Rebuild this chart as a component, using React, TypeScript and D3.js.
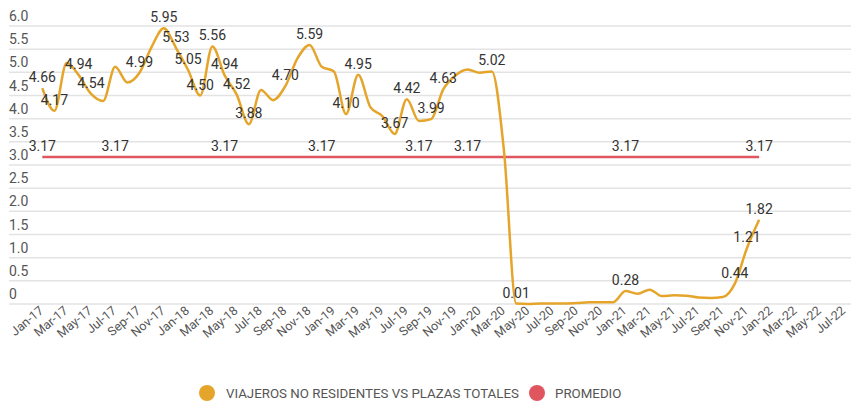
import React, { useEffect, useRef } from 'react';
import * as d3 from 'd3';

// axis categories (monthly), Jan-17 .. Jul-22
const months = [
  'Jan-17', 'Feb-17', 'Mar-17', 'Apr-17', 'May-17', 'Jun-17', 'Jul-17', 'Aug-17', 'Sep-17', 'Oct-17', 'Nov-17', 'Dec-17',
  'Jan-18', 'Feb-18', 'Mar-18', 'Apr-18', 'May-18', 'Jun-18', 'Jul-18', 'Aug-18', 'Sep-18', 'Oct-18', 'Nov-18', 'Dec-18',
  'Jan-19', 'Feb-19', 'Mar-19', 'Apr-19', 'May-19', 'Jun-19', 'Jul-19', 'Aug-19', 'Sep-19', 'Oct-19', 'Nov-19', 'Dec-19',
  'Jan-20', 'Feb-20', 'Mar-20', 'Apr-20', 'May-20', 'Jun-20', 'Jul-20', 'Aug-20', 'Sep-20', 'Oct-20', 'Nov-20', 'Dec-20',
  'Jan-21', 'Feb-21', 'Mar-21', 'Apr-21', 'May-21', 'Jun-21', 'Jul-21', 'Aug-21', 'Sep-21', 'Oct-21', 'Nov-21', 'Dec-21',
  'Jan-22', 'Feb-22', 'Mar-22', 'Apr-22', 'May-22', 'Jun-22', 'Jul-22',
];

const tickLabels = [
  'Jan-17', 'Mar-17', 'May-17', 'Jul-17', 'Sep-17', 'Nov-17',
  'Jan-18', 'Mar-18', 'May-18', 'Jul-18', 'Sep-18', 'Nov-18',
  'Jan-19', 'Mar-19', 'May-19', 'Jul-19', 'Sep-19', 'Nov-19',
  'Jan-20', 'Mar-20', 'May-20', 'Jul-20', 'Sep-20', 'Nov-20',
  'Jan-21', 'Mar-21', 'May-21', 'Jul-21', 'Sep-21', 'Nov-21',
  'Jan-22', 'Mar-22', 'May-22', 'Jul-22',
];

// viajeros no residentes vs plazas totales, Jan-17 .. Dec-21
const ratio = [
  4.66, 4.17, 5.2, 4.94, 4.54, 4.38, 5.12, 4.78, 4.99, 5.55, 5.95, 5.53,
  5.05, 4.5, 5.56, 4.94, 4.52, 3.88, 4.62, 4.4, 4.7, 5.3, 5.59, 5.12,
  5.02, 4.1, 4.95, 4.25, 4.05, 3.67, 4.42, 3.95, 3.99, 4.63, 4.93, 5.06,
  4.99, 5.02, 3.3, 0.01, 0.0, 0.01, 0.01, 0.01, 0.02, 0.04, 0.04, 0.04,
  0.28, 0.22, 0.31, 0.17, 0.19, 0.18, 0.14, 0.13, 0.15, 0.44, 1.21, 1.82,
];

const promedio = 3.17;

// months whose value label is shown
const labeledMonths = [
  'Jan-17', 'Feb-17', 'Apr-17', 'May-17', 'Sep-17', 'Nov-17', 'Dec-17',
  'Jan-18', 'Feb-18', 'Mar-18', 'Apr-18', 'May-18', 'Jun-18', 'Sep-18', 'Nov-18',
  'Feb-19', 'Mar-19', 'Jun-19', 'Jul-19', 'Sep-19', 'Oct-19', 'Feb-20', 'Apr-20',
  'Jan-21', 'Oct-21', 'Nov-21', 'Dec-21',
];
const avgLabelMonths = ['Jan-17', 'Jul-17', 'Apr-18', 'Dec-18', 'Aug-19', 'Dec-19', 'Jan-21', 'Dec-21'];

const yTicks = [0, 0.5, 1, 1.5, 2, 2.5, 3, 3.5, 4, 4.5, 5, 5.5, 6];

const seriesNames = ['VIAJEROS NO RESIDENTES VS PLAZAS TOTALES', 'PROMEDIO'];
const ORANGE = '#e5a52b';
const RED = '#e0565f';

const App = () => {
  const svgRef = useRef(null);

  useEffect(() => {
    const svg = d3.select(svgRef.current);
    svg.selectAll('*').remove();

    const width = 851;
    const font = 'Roboto, sans-serif';

    const x = d3.scalePoint().domain(months).range([42.3, 42.3 + 66 * 12.15]);
    const y = d3.scaleLinear().domain([0, 6]).range([304, 26]);

    const dataMonths = months.slice(0, ratio.length);
    const pts = dataMonths.map((m, i) => ({ m, v: ratio[i] }));

    // grid + y labels
    const grid = svg.append('g');
    yTicks.forEach(t => {
      grid.append('line')
        .attr('x1', 9).attr('x2', width)
        .attr('y1', y(t)).attr('y2', y(t))
        .attr('stroke', '#e3e3e3').attr('stroke-width', 1.5);
      grid.append('text')
        .attr('x', 9).attr('y', y(t) - 5)
        .attr('font-family', font).attr('font-size', 14)
        .attr('fill', '#555')
        .text(t === 0 ? '0' : d3.format('.1f')(t));
    });

    // x labels
    const xl = svg.append('g');
    tickLabels.forEach(l => {
      xl.append('text')
        .attr('transform', `translate(${x(l) + 2},${312}) rotate(-40)`)
        .attr('text-anchor', 'end')
        .attr('font-family', font).attr('font-size', 12.5)
        .attr('fill', '#555')
        .text(l);
    });

    // promedio line
    svg.append('line')
      .attr('x1', x(dataMonths[0])).attr('x2', x(dataMonths[dataMonths.length - 1]))
      .attr('y1', y(promedio)).attr('y2', y(promedio))
      .attr('stroke', RED).attr('stroke-width', 2.5);

    // main line
    const line = d3.line()
      .x(d => x(d.m))
      .y(d => y(d.v))
      .curve(d3.curveMonotoneX);
    svg.append('path')
      .datum(pts)
      .attr('d', line)
      .attr('fill', 'none')
      .attr('stroke', ORANGE)
      .attr('stroke-width', 2.5);

    // labels
    const lab = svg.append('g')
      .attr('font-family', font).attr('font-size', 14)
      .attr('fill', '#333').attr('text-anchor', 'middle');
    avgLabelMonths.forEach(m => {
      lab.append('text').attr('x', x(m)).attr('y', y(promedio) - 6).text(promedio.toFixed(2));
    });
    pts.filter(p => labeledMonths.includes(p.m)).forEach(p => {
      lab.append('text').attr('x', x(p.m)).attr('y', y(p.v) - 6).text(p.v.toFixed(2));
    });

    // legend
    const leg = svg.append('g').attr('font-family', font).attr('font-size', 13.3).attr('fill', '#555');
    leg.append('circle').attr('cx', 207).attr('cy', 393).attr('r', 8).attr('fill', ORANGE);
    leg.append('text').attr('x', 226).attr('y', 398).text(seriesNames[0]);
    leg.append('circle').attr('cx', 537).attr('cy', 393).attr('r', 8).attr('fill', RED);
    leg.append('text').attr('x', 555).attr('y', 398).text(seriesNames[1]);
  }, []);

  return (
    <svg
      ref={svgRef}
      width={851}
      height={401}
      style={{ position: 'absolute', left: 0, top: 0, background: '#fff' }}
    />
  );
};

export default App;
